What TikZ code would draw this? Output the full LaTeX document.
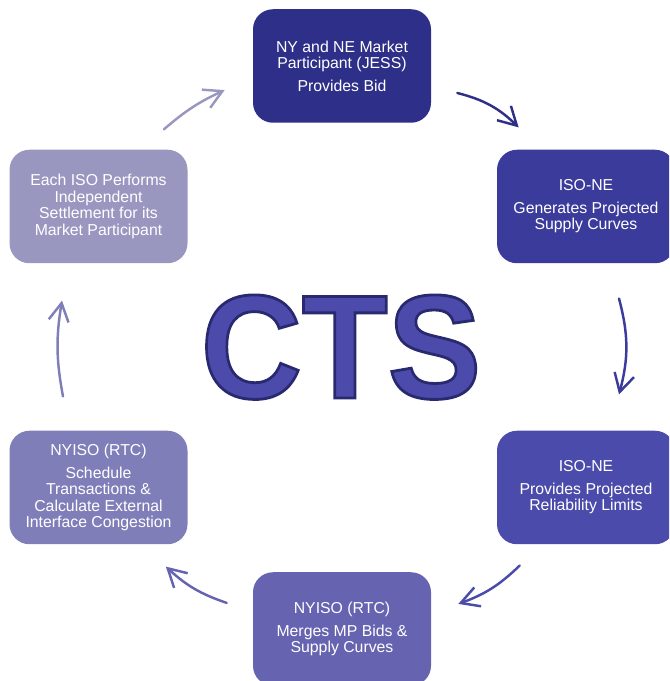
\documentclass[tikz,border=0pt]{standalone}
\usepackage{fontspec}
\setmainfont{Liberation Sans}
\usetikzlibrary{calc,arrows.meta}

\definecolor{bidcol}{RGB}{46,47,136}
\definecolor{supcol}{RGB}{59,59,155}
\definecolor{limcol}{RGB}{75,75,171}
\definecolor{mrgcol}{RGB}{102,99,176}
\definecolor{schcol}{RGB}{128,126,185}
\definecolor{setcol}{RGB}{153,151,192}
\definecolor{ctscol}{RGB}{76,75,172}
% stroked outline round the big letters (fill + stroke render mode)
\def\ctsoutline#1{\special{pdf:literal direct 2 Tr 1.6 w 0.16 0.16 0.44 RG}#1\special{pdf:literal direct 0 Tr}}

\tikzset{
	isobox/.style={rounded corners=0.4cm, minimum width=3.56cm, minimum height=2.27cm, inner sep=0pt,
		text=white, align=center, font=\fontsize{9}{9.4}\selectfont},
	flow/.style={line width=1.4pt, line cap=round, -{Straight Barb[length=3.6mm, width=4mm]}}
}

\begin{document}
\begin{tikzpicture}
			%%%%% START %%%%%
			
			\useasboundingbox (0, 0) rectangle (13.38, 13.62);
			\clip (0, 0) rectangle (13.38, 13.62);
			
			\node[isobox, fill=bidcol] (bid) at (6.84, 12.30) {NY and NE Market\\Participant (JESS)\\[3.4pt]Provides Bid};
			\node[isobox, fill=supcol] (supply) at (11.72, 9.49) {ISO-NE\\[3.4pt]Generates Projected\\Supply Curves};
			\node[isobox, fill=limcol] (limits) at (11.72, 3.87) {ISO-NE\\[3.4pt]Provides Projected\\Reliability Limits};
			\node[isobox, fill=mrgcol] (merge) at (6.84, 1.04) {NYISO (RTC)\\[3.4pt]Merges MP Bids \&\\Supply Curves};
			\node[isobox, fill=schcol] (sched) at (1.97, 3.87) {NYISO (RTC)\\[3.4pt]Schedule\\Transactions \&\\Calculate External\\Interface Congestion};
			\node[isobox, fill=setcol] (settle) at (1.97, 9.49) {Each ISO Performs\\Independent\\Settlement for its\\Market Participant};
			
			\node[anchor=base, inner sep=0pt, text=ctscol, xscale=0.95] (cts) at (6.82, 5.66)
				{\fontsize{84}{84}\selectfont\bfseries\ctsoutline{CTS}};
			
			\draw[flow, color=bidcol] ($(bid.east)+(0.52, -0.54)$) to[bend left=15] ($(supply.north west)+(0.44, 0.44)$);
			\draw[flow, color=supcol] ($(supply.south)+(0.66, -0.70)$) to[bend left=15] ($(limits.north)+(0.66, 0.72)$);
			\draw[flow, color=limcol] ($(limits.south west)+(0.46, -0.42)$) to[bend left=12] ($(merge.north east)+(0.54, -0.64)$);
			\draw[flow, color=mrgcol] ($(merge.north west)+(-0.52, -0.62)$) to[bend left=12] ($(sched.south east)+(-0.44, -0.44)$);
			\draw[flow, color=schcol] ($(sched.north)+(-0.71, 0.68)$) to[bend left=10] ($(settle.south)+(-0.73, -0.74)$);
			\draw[flow, color=setcol] ($(settle.north east)+(-0.48, 0.40)$) to[bend left=8] ($(bid.south west)+(-0.56, 0.66)$);
			
			%%%%% END %%%%%
\end{tikzpicture}
\end{document}
